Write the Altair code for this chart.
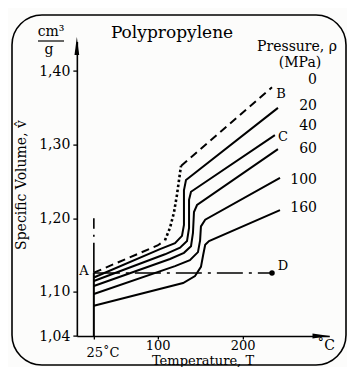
import altair as alt
import pandas as pd

# ---------------- data ----------------
# 0 MPa curve (dashed, with dotted melting step)
p0_low_T = [25, 100, 108.7]
p0_low_V = [1.126, 1.163, 1.170]
p0_rise_T = [108.7, 114.6, 119.3, 122.8, 125.2, 127.5]
p0_rise_V = [1.170, 1.187, 1.208, 1.232, 1.252, 1.271]
p0_high_T = [127.5, 234.6]
p0_high_V = [1.271, 1.378]

# solid isobars
p20_T = [25, 102.8, 120.5, 128.7, 131.0, 131.0, 133.4, 241.6]
p20_V = [1.1195, 1.158, 1.166, 1.176, 1.191, 1.238, 1.252, 1.350]
p40_T = [25, 108.7, 126.4, 134.6, 137.0, 137.0, 139.3, 238.0]
p40_V = [1.1147, 1.151, 1.160, 1.169, 1.187, 1.225, 1.236, 1.313]
p60_T = [25, 114.6, 131.0, 139.3, 141.6, 142.8, 146.4, 241.6]
p60_V = [1.108, 1.1446, 1.153, 1.162, 1.180, 1.2085, 1.218, 1.294]
p100_T = [25, 120.5, 138.0, 147.5, 150.0, 151.0, 156.0, 244.0]
p100_V = [1.097, 1.135, 1.143, 1.154, 1.170, 1.189, 1.198, 1.255]
p160_T = [25, 130.0, 144.0, 151.0, 153.6, 156.0, 160.5, 244.0]
p160_V = [1.081, 1.112, 1.1215, 1.134, 1.150, 1.164, 1.169, 1.211]

pressure_labels = ["0", "20", "40", "60", "100", "160"]

# isothermal line at 25 C and isochoric line A-D
iso_T = 25
iso_solid_V = [1.04, 1.126]
iso_dash_V = [1.126, 1.20]
ad_T = [25, 234.6]
ad_V = [1.1256, 1.1256]

x_ticks = [25, 100, 200]
y_ticks = [1.04, 1.10, 1.20, 1.30, 1.40]

# ---------------- layout constants ----------------
FONT = "DejaVu Serif"
X0, Y0 = 76.85, 41.6          # page position of plot-area origin
T_DOM = [5, 302]
V_DOM = [1.04, 1.44]
W = (T_DOM[1] - T_DOM[0]) * 0.85
H = (V_DOM[1] - V_DOM[0]) * 736

xs = alt.Scale(domain=T_DOM, nice=False, zero=False)
ys = alt.Scale(domain=V_DOM, nice=False, zero=False)


def frame(T, V, name):
    return pd.DataFrame({"T": T, "V": V, "p": name, "i": range(len(T))})


solid = pd.concat([
    frame(p20_T, p20_V, "20"),
    frame(p40_T, p40_V, "40"),
    frame(p60_T, p60_V, "60"),
    frame(p100_T, p100_V, "100"),
    frame(p160_T, p160_V, "160"),
])
dashed = pd.concat([frame(p0_low_T, p0_low_V, "a"), frame(p0_high_T, p0_high_V, "b")])
dotted = frame(p0_rise_T, p0_rise_V, "r")

X = alt.X("T:Q", scale=xs, axis=alt.Axis(
    values=x_ticks, format="d", labelExpr="datum.value == 25 ? '' : datum.label",
    title=None, grid=False, labelFont=FONT, labelFontSize=13, labelColor="black",
    tickSize=3, labelPadding=0, domainColor="black", domainWidth=1.6,
    tickColor="black", tickWidth=1.3))
Y = alt.Y("V:Q", scale=ys, axis=alt.Axis(
    values=y_ticks, format=".2f", labelExpr="replace(datum.label, '.', ',')",
    title=None, grid=False, labelFont=FONT, labelFontSize=14, labelColor="black",
    tickSize=4, labelPadding=3, domainColor="black", domainWidth=1.6,
    tickColor="black", tickWidth=1.3))

lines_solid = alt.Chart(solid).mark_line(color="black", strokeWidth=2).encode(
    x=X, y=Y, detail="p:N", order="i:Q")
lines_dash = alt.Chart(dashed).mark_line(color="black", strokeWidth=2, strokeDash=[8, 5]).encode(
    x=alt.X("T:Q", scale=xs), y=alt.Y("V:Q", scale=ys), detail="p:N", order="i:Q")
lines_dot = alt.Chart(dotted).mark_line(color="black", strokeWidth=2.6, strokeDash=[2.5, 2.5]).encode(
    x=alt.X("T:Q", scale=xs), y=alt.Y("V:Q", scale=ys), order="i:Q")

iso_df = pd.DataFrame({"T": [iso_T], "V": [iso_solid_V[0]], "V2": [iso_solid_V[1]]})
iso_rule = alt.Chart(iso_df).mark_rule(color="black", strokeWidth=2).encode(
    x=alt.X("T:Q", scale=xs), y=alt.Y("V:Q", scale=ys), y2="V2:Q")
isod_df = pd.DataFrame({"T": [iso_T], "V": [iso_dash_V[0]], "V2": [iso_dash_V[1]]})
iso_dash = alt.Chart(isod_df).mark_rule(color="black", strokeWidth=1.6, strokeDash=[30, 6, 2, 6]).encode(
    x=alt.X("T:Q", scale=xs), y=alt.Y("V:Q", scale=ys), y2="V2:Q")
ad_df = pd.DataFrame({"T": ad_T, "V": ad_V, "i": [0, 1]})
ad_line = alt.Chart(ad_df).mark_line(color="black", strokeWidth=1.6, strokeDash=[26, 6, 3, 6]).encode(
    x=alt.X("T:Q", scale=xs), y=alt.Y("V:Q", scale=ys), order="i:Q")
d_point = alt.Chart(ad_df.iloc[[1]]).mark_point(filled=True, color="black", size=30, opacity=1).encode(
    x=alt.X("T:Q", scale=xs), y=alt.Y("V:Q", scale=ys))


def txt(s, x, y, size=14, align="center", angle=0, baseline="middle"):
    return alt.Chart(alt.Data(values=[{}])).mark_text(
        text=s, font=FONT, fontSize=size, align=align, baseline=baseline,
        angle=angle, color="black").encode(x=alt.value(x - X0), y=alt.value(y - Y0))


def pix(shape, x, y, size):
    return alt.Chart(alt.Data(values=[{}])).mark_point(
        shape=shape, filled=True, color="black", size=size, opacity=1).encode(
        x=alt.value(x - X0), y=alt.value(y - Y0))


border = alt.Chart(alt.Data(values=[{}])).mark_rect(
    cornerRadius=30, fill="white", fillOpacity=0, stroke="black", strokeWidth=1.6).encode(
    x=alt.value(12 - X0), x2=alt.value(346 - X0), y=alt.value(15 - Y0), y2=alt.value(365 - Y0))

arrow_up = pix("M0,-1L0.26,1L-0.26,1Z", X0, 46, 324)
arrow_right = pix("M1,0L-1,-0.28L-1,0.28Z", 321, 336, 289)

label_y = [80, 106, 126, 149, 180, 208]
plabels = [txt(s, 317, y, 14, align="right") for s, y in zip(pressure_labels, label_y)]

texts = [
    txt("Polypropylene", 172, 33, 17),
    txt("Pressure, ρ", 297, 47, 14),
    txt("(MPa)", 300, 63, 14),
    txt("A", 84, 271, 13),
    txt("B", 281, 94, 13),
    txt("C", 283, 137, 13),
    txt("D", 283, 266, 13),
    txt("cm³", 51, 32, 14),
    txt("g", 49, 50, 14),
    txt("25˚C", 103, 353, 13),
    txt("˚C", 326, 346, 14),
    txt("Temperature, T", 203, 364.5, 13, baseline="alphabetic"),
    txt("Specific Volume, v̂", 22, 185, 14, angle=270),
]
frac_bar = alt.Chart(alt.Data(values=[{}])).mark_rule(color="black", strokeWidth=1.2).encode(
    x=alt.value(38 - X0), x2=alt.value(64 - X0), y=alt.value(41 - Y0))

chart = alt.layer(
    border, lines_solid, lines_dash, lines_dot, iso_rule, iso_dash, ad_line, d_point,
    arrow_up, arrow_right, frac_bar, *texts, *plabels
).properties(
    width=W, height=H,
    padding={"left": X0 - 8, "top": Y0 - 8, "right": 339 - (X0 - 8) - W, "bottom": 359 - (Y0 - 8) - H},
    autosize=alt.AutoSizeParams(type="none"),
    background="#fcfcfb",
).configure_view(stroke=None)

chart.save("out.html", embed_options={"renderer": "svg", "actions": False})
